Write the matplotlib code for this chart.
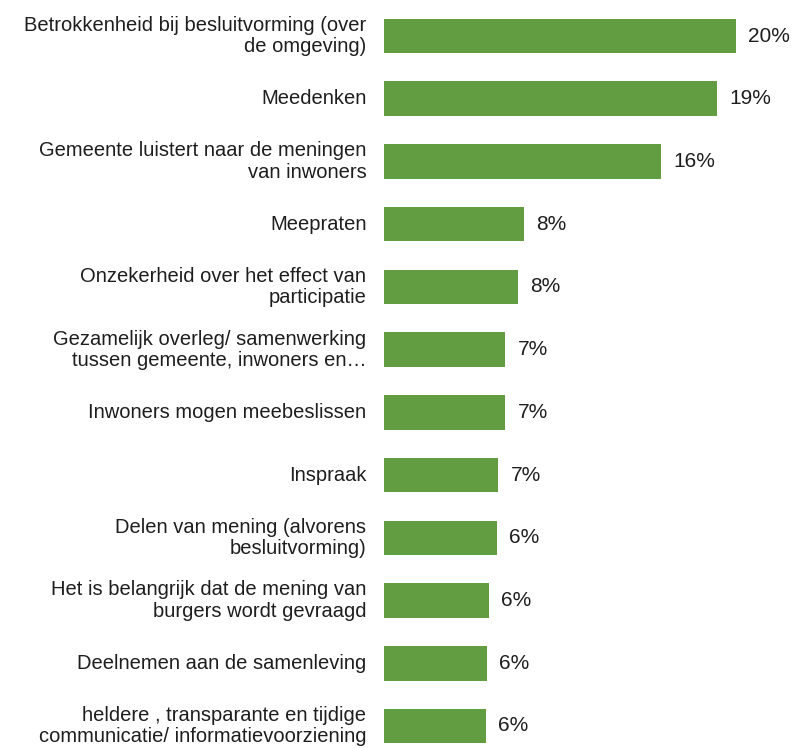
import matplotlib.pyplot as plt

plt.rcParams['font.family'] = ['Liberation Sans', 'DejaVu Sans']

categories = [
    "Betrokkenheid bij besluitvorming (over\nde omgeving)",
    "Meedenken",
    "Gemeente luistert naar de meningen\nvan inwoners",
    "Meepraten",
    "Onzekerheid over het effect van\nparticipatie",
    "Gezamelijk overleg/ samenwerking\ntussen gemeente, inwoners en\u2026",
    "Inwoners mogen meebeslissen",
    "Inspraak",
    "Delen van mening (alvorens\nbesluitvorming)",
    "Het is belangrijk dat de mening van\nburgers wordt gevraagd",
    "Deelnemen aan de samenleving",
    "heldere , transparante en tijdige\ncommunicatie/ informatievoorziening",
]
values = [20.0, 18.9, 15.75, 7.95, 7.6, 6.9, 6.9, 6.5, 6.4, 5.97, 5.85, 5.8]
value_labels = ["20%", "19%", "16%", "8%", "8%", "7%", "7%", "7%", "6%", "6%", "6%", "6%"]

fig = plt.figure(figsize=(7.92, 7.48), dpi=100)
ax = fig.add_axes([384 / 792, 0, 408 / 792, 1])

ypos = list(range(len(categories)))
ax.barh(ypos, values, height=0.55, color='#629E41')

ax.set_xlim(0, 20 * 408 / 352)
ax.set_ylim(11 + 22 / 62.7, -36 / 62.7)

for y, v, lab in zip(ypos, values, value_labels):
    ax.text(v + 0.7, y, lab, va='center', ha='left', fontsize=15, color='#1e1e1e')

for y, cat in zip(ypos, categories):
    ax.text(-1.0, y, cat, va='center', ha='right', fontsize=14.5, color='#1e1e1e',
            linespacing=1.15)

ax.set_xticks([])
ax.set_yticks([])
for s in ax.spines.values():
    s.set_visible(False)

fig.savefig('out.png', dpi=100)
